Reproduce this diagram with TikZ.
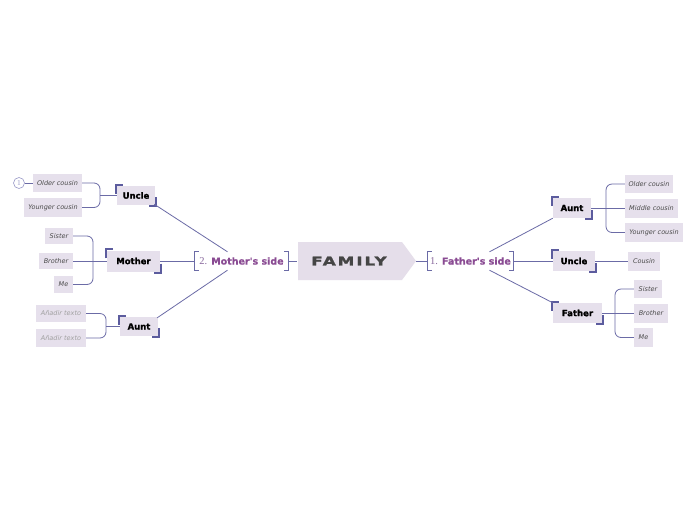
\documentclass[tikz,border=0pt]{standalone}
\usepackage{fontspec}
\setmainfont{DejaVu Sans}
\newfontfamily\famf[FakeStretch=1.4,LetterSpace=16,FakeBold=2]{DejaVu Sans Bold}
\newfontfamily\heavyf[FakeBold=1.2]{DejaVu Sans Bold}
\newfontfamily\sidef[FakeBold=0.8]{DejaVu Sans Bold}
\newfontfamily\numf{Liberation Serif}
\usetikzlibrary{calc}
\definecolor{boxfill}{HTML}{E6E0EC}
\definecolor{famfill}{HTML}{E5DEEA}
\definecolor{linecol}{HTML}{6B6BA6}
\definecolor{brkcol}{HTML}{5C5C9E}
\definecolor{purp}{HTML}{8A4B93}
\definecolor{numcol}{HTML}{8A6A9E}
\definecolor{childtext}{HTML}{4A4A4A}
\definecolor{addtext}{HTML}{A0A0A0}
\definecolor{famtext}{HTML}{454545}
\definecolor{circcol}{HTML}{9A9AC8}
\tikzset{
  childbox/.style={fill=boxfill, inner sep=0pt, font=\fontsize{6.5}{7}\selectfont\itshape, text=childtext},
  addbox/.style={childbox, text=addtext},
  mainbox/.style={fill=boxfill, inner sep=0pt, font=\heavyf\fontsize{8.5}{9}\selectfont, text=black},
  sidebox/.style={inner sep=0pt, minimum height=18pt, font=\fontsize{9.5}{10}\selectfont},
  conn/.style={draw=linecol, line width=0.8pt},
  bconn/.style={conn, rounded corners=6pt},
  brk/.style={draw=brkcol, line width=1.8pt, line join=miter},
  sidebrk/.style={draw=linecol, line width=0.8pt}
}
\newcommand\mainbr[1]{%
  \draw[brk] ([shift={(-1pt,-8pt)}]#1.north west) -- ([shift={(-1pt,1pt)}]#1.north west) -- ([shift={(6pt,1pt)}]#1.north west);
  \draw[brk] ([shift={(1pt,8pt)}]#1.south east) -- ([shift={(1pt,-1pt)}]#1.south east) -- ([shift={(-6pt,-1pt)}]#1.south east);}
\newcommand\sidebr[1]{%
  \draw[sidebrk] ([xshift=4pt]#1.north west) -- (#1.north west) -- (#1.south west) -- ([xshift=4pt]#1.south west);
  \draw[sidebrk] ([xshift=-4pt]#1.north east) -- (#1.north east) -- (#1.south east) -- ([xshift=-4pt]#1.south east);}
\begin{document}
\begin{tikzpicture}[x=1pt,y=-1pt]
\useasboundingbox[fill=white] (0,0) rectangle (696,520);

% center
\fill[famfill] (298,242) -- (402,242) -- (416,261) -- (402,280) -- (298,280) -- cycle;
\node[inner sep=0pt, minimum width=104pt, minimum height=38pt, text=famtext, font=\famf\fontsize{12}{13}\selectfont] (family) at (349,261) {FAMILY};
\coordinate (famtip) at (416,261);

\node[sidebox, minimum width=93pt] (mside) at (241.5,261) {{\numf\color{numcol}\fontsize{10.5}{11}\selectfont 2.} {\color{purp}\sidef Mother's side}};
\node[sidebox, minimum width=85pt] (fside) at (470.5,261) {{\numf\color{numcol}\fontsize{10.5}{11}\selectfont 1.} {\color{purp}\sidef Father's side}};
\sidebr{mside}
\sidebr{fside}

% left main nodes
\node[mainbox, minimum width=38pt, minimum height=19pt] (lUncle) at (136,195.5) {Uncle};
\node[mainbox, minimum width=53pt, minimum height=21pt] (lMother) at (133.5,261) {Mother};
\node[mainbox, minimum width=38pt, minimum height=19pt] (lAunt) at (139,326.5) {Aunt};
% right main nodes
\node[mainbox, minimum width=38pt, minimum height=20pt] (rAunt) at (572,208) {Aunt};
\node[mainbox, minimum width=42pt, minimum height=20pt] (rUncle) at (574,261) {Uncle};
\node[mainbox, minimum width=49pt, minimum height=20pt] (rFather) at (577.5,313) {Father};
\mainbr{lUncle}\mainbr{lMother}\mainbr{lAunt}
\mainbr{rAunt}\mainbr{rUncle}\mainbr{rFather}

% left children
\node[childbox, minimum width=49pt, minimum height=18pt] (lOlder) at (57.5,183) {Older cousin};
\node[childbox, minimum width=58pt, minimum height=19pt] (lYounger) at (53,207.5) {Younger cousin};
\node[childbox, minimum width=28pt, minimum height=16pt] (lSister) at (59,236) {Sister};
\node[childbox, minimum width=34pt, minimum height=16pt] (lBrother) at (56,261) {Brother};
\node[childbox, minimum width=19pt, minimum height=17pt] (lMe) at (63.5,284.5) {Me};
\node[addbox, minimum width=50pt, minimum height=17pt] (lAdd1) at (61,313.5) {Añadir texto};
\node[addbox, minimum width=50pt, minimum height=18pt] (lAdd2) at (61,338) {Añadir texto};
\node[circle, draw=circcol, line width=0.6pt, minimum size=11pt, inner sep=0pt, text=circcol, font=\numf\fontsize{7.5}{8}\selectfont] (circ) at (19,183) {1};

% right children
\node[childbox, minimum width=48pt, minimum height=18pt] (rOlder) at (649,184) {Older cousin};
\node[childbox, minimum width=53pt, minimum height=19pt] (rMiddle) at (651.5,208) {Middle cousin};
\node[childbox, minimum width=58pt, minimum height=19pt] (rYounger) at (654,232.5) {Younger cousin};
\node[childbox, minimum width=32pt, minimum height=19pt] (rCousin) at (644,261) {Cousin};
\node[childbox, minimum width=28pt, minimum height=18pt] (rSister) at (648,289) {Sister};
\node[childbox, minimum width=34pt, minimum height=19pt] (rBrother) at (651,313) {Brother};
\node[childbox, minimum width=19pt, minimum height=19pt] (rMe) at (643.5,337.5) {Me};

% junction coordinates
\coordinate (jLU) at (100,195.5);
\coordinate (jLM) at (93,261);
\coordinate (jLA) at (106,326.5);
\coordinate (jRA) at (606,208);
\coordinate (jRF) at (615,313);

% connectors center
\draw[conn] (mside.east) -- (family.west);
\draw[conn] (famtip) -- (fside.west);
\draw[conn] (lMother.east) -- (mside.west);
\draw[conn] ([xshift=-14pt]mside.north) -- ([shift={(-1pt,1pt)}]lUncle.south east);
\draw[conn] ([xshift=-14pt]mside.south) -- ([shift={(-1pt,-1pt)}]lAunt.north east);
\draw[conn] (fside.east) -- (rUncle.west);
\draw[conn] ([xshift=19pt]fside.north) -- (rAunt.south west);
\draw[conn] ([xshift=19pt]fside.south) -- (rFather.north west);

% left child connectors
\draw[conn] (circ.east) -- (lOlder.west);
\draw[bconn] (lOlder.east) -| (jLU);
\draw[bconn] (lYounger.east) -| (jLU);
\draw[conn] (jLU) -- (lUncle.west);
\draw[bconn] (lSister.east) -| (jLM);
\draw[bconn] (lMe.east) -| (jLM);
\draw[conn] (lBrother.east) -- (lMother.west);
\draw[bconn] (lAdd1.east) -| (jLA);
\draw[bconn] (lAdd2.east) -| (jLA);
\draw[conn] (jLA) -- (lAunt.west);

% right child connectors
\draw[conn] (rAunt.east) -- (rMiddle.west);
\draw[bconn] (jRA) |- (rOlder.west);
\draw[bconn] (jRA) |- (rYounger.west);
\draw[conn] (rUncle.east) -- (rCousin.west);
\draw[conn] (rFather.east) -- (rBrother.west);
\draw[bconn] (jRF) |- (rSister.west);
\draw[bconn] (jRF) |- (rMe.west);
\end{tikzpicture}
\end{document}
